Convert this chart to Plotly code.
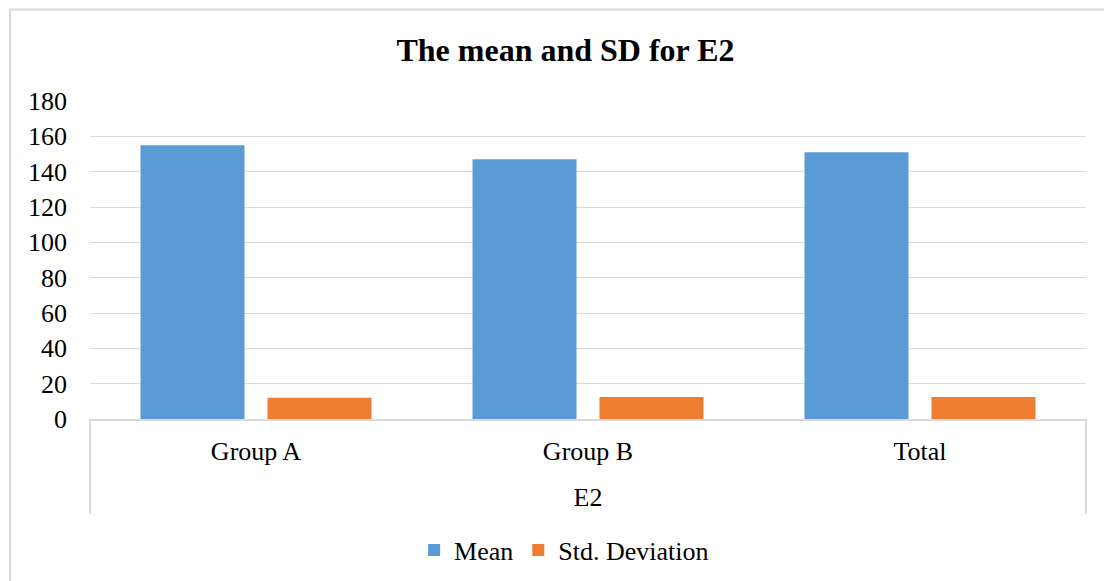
import plotly.graph_objects as go

categories = ["Group A", "Group B", "Total"]
mean_values = [155.0, 147.0, 151.0]
sd_values = [12.0, 12.5, 12.5]
y_ticks = [0, 20, 40, 60, 80, 100, 120, 140, 160, 180]

FONT = "Liberation Serif, Times New Roman, serif"
GRID = "#d9d9d9"
# the page body has an 8px margin; the figure is shrunk so the plot sits where the reference has it
OFF = 8

fig = go.Figure()
fig.add_trace(go.Bar(name="Mean", x=categories, y=mean_values,
                     marker=dict(color="#5b9bd5", line=dict(width=0))))
fig.add_trace(go.Bar(name="Std. Deviation", x=categories, y=sd_values,
                     marker=dict(color="#ef7d31", line=dict(width=0))))

fig.update_layout(
    width=1112 - OFF, height=581 - OFF,
    margin=dict(l=90 - OFF, r=26, t=101 - OFF, b=162, autoexpand=False),
    paper_bgcolor="white", plot_bgcolor="white",
    font=dict(family=FONT, size=26, color="#000000"),
    barmode="group", bargap=0.235, bargroupgap=0.181,
    title=dict(text="<b>The mean and SD for E2</b>", x=0.505, xanchor="center",
               y=0.927, yanchor="middle",
               font=dict(family=FONT, size=32, color="#000000")),
    showlegend=True,
    legend=dict(orientation="h", x=0.476, xanchor="center", y=-0.412, yanchor="middle",
                font=dict(family=FONT, size=26), itemwidth=30, traceorder="normal",
                bgcolor="rgba(0,0,0,0)"),
    xaxis=dict(type="category", showgrid=False, showline=True, linecolor=GRID, linewidth=2,
               ticks="", ticklabelstandoff=8, tickfont=dict(family=FONT, size=26),
               title=dict(text="E2", standoff=23, font=dict(family=FONT, size=26)),
               range=[-0.5, 2.5], fixedrange=True),
    yaxis=dict(range=[0, 180], tickvals=y_ticks, showgrid=True, gridcolor=GRID, gridwidth=1,
               zeroline=False, showline=False, ticks="", ticklabelstandoff=22,
               tickfont=dict(family=FONT, size=26)),
    shapes=[
        dict(type="line", xref="x domain", yref="paper", x0=0, x1=0, y0=0, y1=-0.296,
             line=dict(color=GRID, width=2)),
        dict(type="line", xref="x domain", yref="paper", x0=1, x1=1, y0=0, y1=-0.296,
             line=dict(color=GRID, width=2)),
        dict(type="rect", xref="paper", yref="paper", x0=-0.0803, x1=1.04, y0=-0.6, y1=1.288,
             line=dict(color=GRID, width=2), fillcolor="rgba(0,0,0,0)", layer="below"),
    ],
)

fig.write_html("out.html")
